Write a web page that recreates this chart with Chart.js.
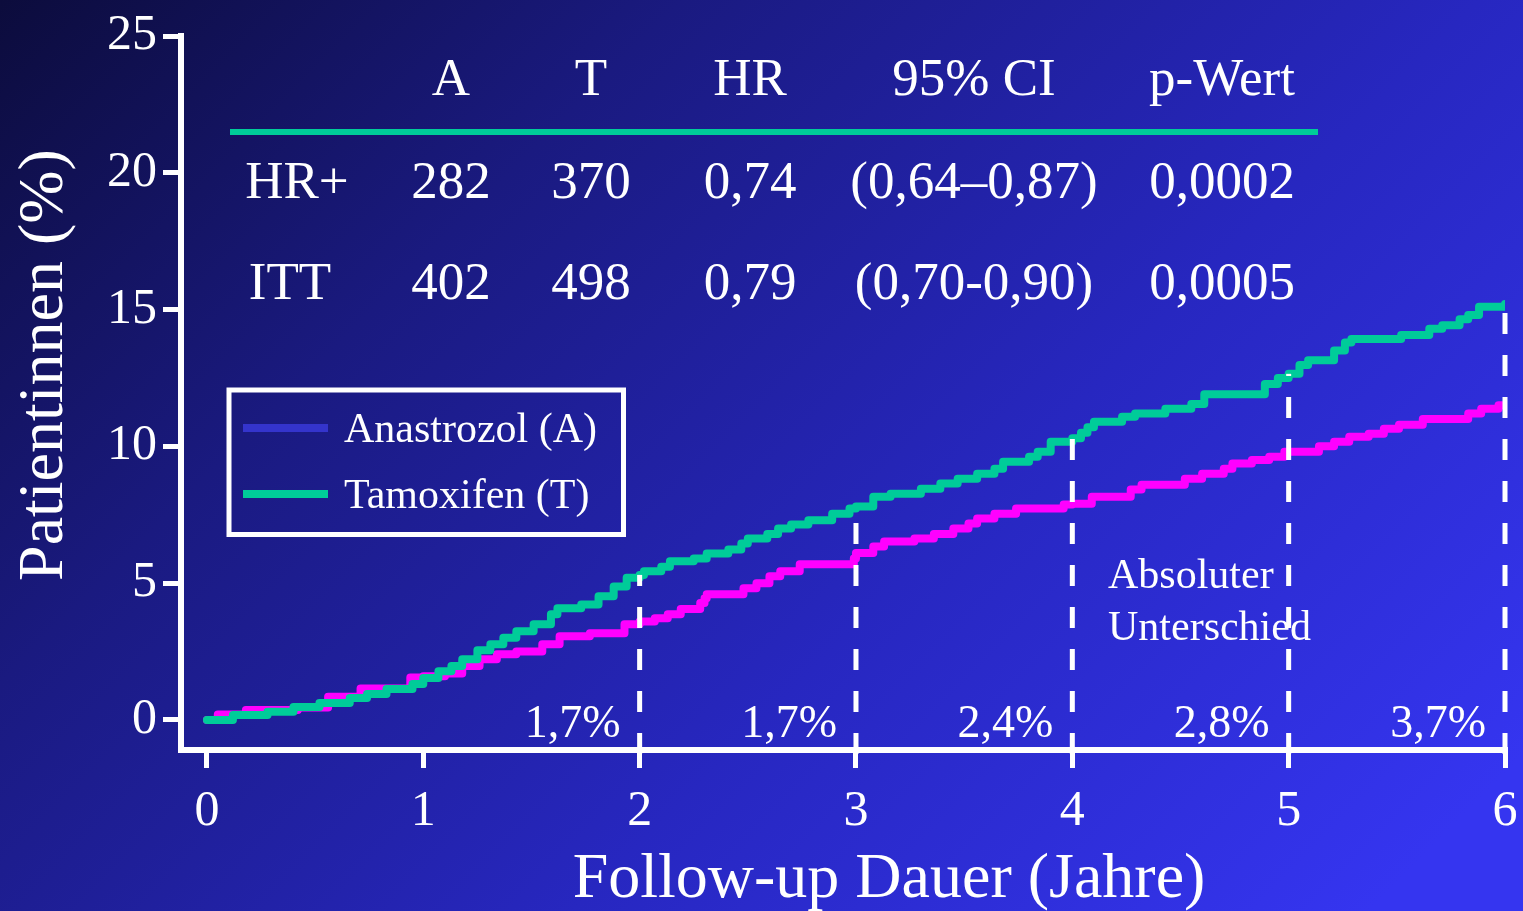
<!DOCTYPE html>
<html>
<head>
<meta charset="utf-8">
<script src="https://cdn.jsdelivr.net/npm/chart.js@4.4.1/dist/chart.umd.min.js"></script>
<style>
  html, body { margin: 0; padding: 0; background: #1c1c88; overflow: hidden; }
  canvas { display: block; }
</style>
</head>
<body>
<canvas id="chart" width="1523" height="911"></canvas>
<script>
// Cumulative incidence (%) over follow-up time (years), Kaplan-Meier style steps
const years = [0, 1, 2, 3, 4, 5, 6];
const percentTicks = [0, 5, 10, 15, 20, 25];

const tamoxifenTime = [0, 0.12, 0.28, 0.40, 0.52, 0.66, 0.74, 0.83, 0.95, 1.00, 1.07, 1.13, 1.18, 1.25, 1.31, 1.37,
  1.43, 1.51, 1.59, 1.62, 1.73, 1.81, 1.88, 1.94, 2.00, 2.02, 2.10, 2.14, 2.25, 2.31, 2.41, 2.47, 2.50, 2.59, 2.64,
  2.70, 2.78, 2.89, 2.97, 3.00, 3.08, 3.16, 3.30, 3.39, 3.47, 3.56, 3.64, 3.68, 3.80, 3.84, 3.90, 4.00, 4.04, 4.07,
  4.10, 4.23, 4.29, 4.43, 4.55, 4.61, 4.89, 4.95, 5.00, 5.05, 5.09, 5.21, 5.26, 5.29, 5.52, 5.65, 5.71, 5.79, 5.83,
  5.88, 6.00];
const tamoxifenRate = [0, 0.18, 0.30, 0.47, 0.62, 0.80, 0.95, 1.13, 1.31, 1.53, 1.78, 1.97, 2.22, 2.55, 2.77, 3.00,
  3.24, 3.50, 3.86, 4.08, 4.22, 4.52, 4.88, 5.20, 5.30, 5.43, 5.60, 5.80, 5.90, 6.08, 6.23, 6.45, 6.63, 6.80, 7.00,
  7.14, 7.30, 7.54, 7.73, 7.80, 8.16, 8.27, 8.45, 8.64, 8.82, 9.00, 9.18, 9.44, 9.62, 9.80, 10.17, 10.30, 10.50, 10.70,
  10.90, 11.08, 11.20, 11.37, 11.55, 11.90, 12.28, 12.50, 12.65, 12.97, 13.15, 13.50, 13.80, 13.92, 14.07, 14.30, 14.43,
  14.65, 14.80, 15.10, 15.20];

const anastrozolTime = [0, 0.05, 0.18, 0.42, 0.56, 0.71, 0.94, 1.00, 1.10, 1.18, 1.26, 1.34, 1.43, 1.55, 1.63, 1.77,
  1.93, 2.00, 2.07, 2.13, 2.19, 2.28, 2.30, 2.31, 2.48, 2.54, 2.60, 2.65, 2.74, 2.99, 3.00, 3.08, 3.13, 3.27, 3.36,
  3.45, 3.52, 3.56, 3.64, 3.74, 3.96, 4.00, 4.09, 4.27, 4.32, 4.52, 4.60, 4.70, 4.74, 4.83, 4.91, 4.98, 5.14, 5.21,
  5.28, 5.37, 5.44, 5.51, 5.62, 5.83, 5.89, 5.97, 6.00];
const anastrozolRate = [0, 0.20, 0.36, 0.45, 0.85, 1.15, 1.55, 1.60, 1.70, 1.97, 2.22, 2.40, 2.50, 2.77, 3.06, 3.17,
  3.50, 3.60, 3.72, 3.86, 4.05, 4.27, 4.45, 4.59, 4.81, 5.00, 5.25, 5.43, 5.69, 5.90, 6.10, 6.34, 6.52, 6.63, 6.80,
  7.00, 7.18, 7.36, 7.54, 7.73, 7.87, 7.90, 8.16, 8.42, 8.60, 8.82, 9.00, 9.18, 9.37, 9.50, 9.62, 9.80, 10.00, 10.17,
  10.35, 10.46, 10.64, 10.79, 11.00, 11.20, 11.37, 11.50, 11.50];

// Absolute difference marked at each yearly landmark
const diffYears = [2, 3, 4, 5, 6];
const diffLabels = ['1,7%', '1,7%', '2,4%', '2,8%', '3,7%'];

// Summary table above the curves
const tableHeader = ['A', 'T', 'HR', '95% CI', 'p-Wert'];
const tableRowLabels = ['HR+', 'ITT'];
const tableRows = [
  ['282', '370', '0,74', '(0,64\u20130,87)', '0,0002'],
  ['402', '498', '0,79', '(0,70-0,90)', '0,0005']
];

const seriesNames = ['Anastrozol (A)', 'Tamoxifen (T)'];

const SERIF = '"Liberation Serif", "Times New Roman", Times, serif';
const GREEN = '#00cc99';
const MAGENTA = '#ff00ff';
const LEGEND_BLUE = '#3434cc';

function toPoints(times, rates) {
  return times.map((t, i) => ({ x: t, y: rates[i] }));
}

function valueAt(times, rates, x) {
  let v = rates[0];
  for (let i = 0; i < times.length; i++) {
    if (times[i] <= x + 1e-9) v = rates[i];
  }
  return v;
}

const backgroundPlugin = {
  id: 'background',
  beforeDraw(chart) {
    const { ctx, width, height } = chart;
    const g = ctx.createLinearGradient(0, 0, width * 0.75, height * 1.25);
    g.addColorStop(0, '#0c0c3c');
    g.addColorStop(0.3, '#1a1a80');
    g.addColorStop(0.65, '#2727c0');
    g.addColorStop(1, '#3535f0');
    ctx.save();
    ctx.fillStyle = g;
    ctx.fillRect(0, 0, width, height);
    ctx.restore();
  }
};

const annotationPlugin = {
  id: 'annotations',
  afterDatasetsDraw(chart) {
    const { ctx, scales: { x, y }, chartArea } = chart;
    ctx.save();
    // dashed drop lines from the tamoxifen curve down to the axis
    ctx.strokeStyle = '#ffffff';
    ctx.lineWidth = 5;
    ctx.setLineDash([21, 21]);
    diffYears.forEach(yr => {
      const px = x.getPixelForValue(yr);
      const top = y.getPixelForValue(valueAt(tamoxifenTime, tamoxifenRate, yr));
      ctx.beginPath();
      ctx.moveTo(px, chartArea.bottom + 4);
      ctx.lineTo(px, top);
      ctx.stroke();
    });
    ctx.setLineDash([]);

    // difference labels
    ctx.fillStyle = '#ffffff';
    ctx.font = '46px ' + SERIF;
    ctx.textAlign = 'right';
    ctx.textBaseline = 'alphabetic';
    diffYears.forEach((yr, i) => {
      const px = x.getPixelForValue(yr);
      ctx.fillText(diffLabels[i], px - 19, 737);
    });

    ctx.textAlign = 'left';
    ctx.font = '42px ' + SERIF;
    ctx.fillText('Absoluter', 1108, 588);
    ctx.fillText('Unterschied', 1108, 640);
    ctx.restore();
  },
  afterDraw(chart) {
    const { ctx } = chart;
    ctx.save();
    ctx.fillStyle = '#ffffff';

    // axis titles
    ctx.font = '64px ' + SERIF;
    ctx.textAlign = 'center';
    ctx.textBaseline = 'alphabetic';
    ctx.fillText('Follow-up Dauer (Jahre)', 889, 897);
    ctx.save();
    ctx.translate(62, 365);
    ctx.rotate(-Math.PI / 2);
    ctx.fillText('Patientinnen (%)', 0, 0);
    ctx.restore();

    // table
    const colX = [451, 591, 750, 974, 1222];
    ctx.font = '53px ' + SERIF;
    ctx.textAlign = 'center';
    tableHeader.forEach((h, i) => ctx.fillText(h, colX[i], 95));
    const rowY = [198, 299];
    const labelX = [297, 290];
    tableRows.forEach((row, r) => {
      ctx.fillText(tableRowLabels[r], labelX[r], rowY[r]);
      row.forEach((cell, i) => ctx.fillText(cell, colX[i], rowY[r]));
    });
    ctx.strokeStyle = GREEN;
    ctx.lineWidth = 6;
    ctx.beginPath();
    ctx.moveTo(230, 132);
    ctx.lineTo(1318, 132);
    ctx.stroke();

    // legend
    ctx.strokeStyle = '#ffffff';
    ctx.lineWidth = 5;
    ctx.strokeRect(229, 390, 394.5, 144.5);
    ctx.lineWidth = 8;
    ctx.strokeStyle = LEGEND_BLUE;
    ctx.beginPath(); ctx.moveTo(243, 428); ctx.lineTo(328, 428); ctx.stroke();
    ctx.strokeStyle = GREEN;
    ctx.beginPath(); ctx.moveTo(243, 494); ctx.lineTo(328, 494); ctx.stroke();
    ctx.font = '42px ' + SERIF;
    ctx.textAlign = 'left';
    ctx.fillText(seriesNames[0], 344, 442);
    ctx.fillText(seriesNames[1], 344, 508);
    ctx.restore();
  }
};

new Chart(document.getElementById('chart'), {
  type: 'line',
  data: {
    datasets: [
      {
        label: seriesNames[1],
        data: toPoints(tamoxifenTime, tamoxifenRate),
        borderColor: GREEN,
        borderWidth: 8,
        stepped: true,
        pointRadius: 0,
        borderJoinStyle: 'round',
        borderCapStyle: 'round',
        order: 0
      },
      {
        label: seriesNames[0],
        data: toPoints(anastrozolTime, anastrozolRate),
        borderColor: MAGENTA,
        borderWidth: 8,
        stepped: true,
        pointRadius: 0,
        borderJoinStyle: 'round',
        borderCapStyle: 'round',
        order: 1
      }
    ]
  },
  options: {
    responsive: false,
    animation: false,
    devicePixelRatio: 1,
    layout: { padding: { top: 36, right: 18, left: 0, bottom: 0 } },
    plugins: { legend: { display: false }, tooltip: { enabled: false } },
    scales: {
      x: {
        type: 'linear',
        min: -0.12,
        max: 6,
        afterBuildTicks: s => { s.ticks = years.map(v => ({ value: v })); },
        afterFit: s => { s.height = 161; s.paddingLeft = 0; s.paddingRight = 0; },
        grid: { drawOnChartArea: false, color: '#ffffff', lineWidth: 5, tickLength: 18 },
        border: { color: '#ffffff', width: 6 },
        ticks: { color: '#ffffff', font: { family: SERIF, size: 50 }, padding: 14, maxRotation: 0, autoSkip: false }
      },
      y: {
        type: 'linear',
        min: -1.1,
        max: 25,
        afterBuildTicks: s => { s.ticks = percentTicks.map(v => ({ value: v })); },
        afterFit: s => { s.width = 181; s.paddingTop = 0; s.paddingBottom = 0; },
        grid: { drawOnChartArea: false, color: '#ffffff', lineWidth: 5, tickLength: 18 },
        border: { color: '#ffffff', width: 6 },
        ticks: { color: '#ffffff', font: { family: SERIF, size: 50 }, padding: 6, autoSkip: false }
      }
    }
  },
  plugins: [backgroundPlugin, annotationPlugin]
});
</script>
</body>
</html>
